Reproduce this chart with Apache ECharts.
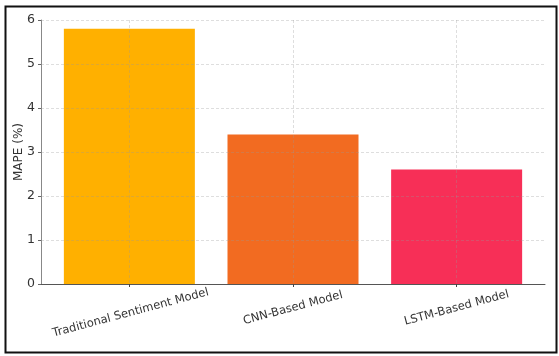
<!DOCTYPE html>
<html>
<head>
<meta charset="utf-8">
<script src="https://cdn.jsdelivr.net/npm/echarts@6/dist/echarts.min.js"></script>
<style>html,body{margin:0;padding:0;background:#fff;}#c{width:559px;height:356px;}</style>
</head>
<body>
<div id="c"></div>
<script>
var categories = ['Traditional Sentiment Model', 'CNN-Based Model', 'LSTM-Based Model'];
var mapeValues = [5.8, 3.4, 2.6];
var barColors = ['#FFB000', '#F26B21', '#F72F57'];
var yTicks = [0, 1, 2, 3, 4, 5, 6];

var chart = echarts.init(document.getElementById('c'));
var positions = categories.map(function (c, i) { return i; });
var gridColor = 'rgba(150,150,150,0.4)';
chart.setOption({
  animation: false,
  backgroundColor: '#fff',
  textStyle: { fontFamily: 'DejaVu Sans' },
  graphic: [{
    type: 'rect', left: 3, top: 4, z: 100, silent: true,
    shape: { width: 551, height: 346 },
    style: { fill: 'none', stroke: '#111', lineWidth: 2 }
  }],
  grid: { left: 41, right: 14, top: 20, bottom: 72, containLabel: false, outerBoundsMode: 'none' },
  xAxis: {
    type: 'value', min: -0.54, max: 2.54, z: 3,
    axisLine: { show: true, lineStyle: { color: '#555', width: 1 } },
    axisTick: { show: true, customValues: positions, length: 3, lineStyle: { color: '#444' } },
    axisLabel: {
      customValues: positions,
      formatter: function (v) {
        var i = Math.round(v);
        return i === 0 ? '{l|' + categories[i] + '}' : '{s|' + categories[i] + '}';
      },
      rich: {
        l: { fontSize: 11.5, color: '#333', fontFamily: 'DejaVu Sans', padding: [10, 0, 0, 0] },
        s: { fontSize: 11.5, color: '#333', fontFamily: 'DejaVu Sans' }
      },
      rotate: 15, align: 'center', verticalAlign: 'middle', margin: 24,
      fontSize: 11.5, color: '#333', fontFamily: 'DejaVu Sans'
    },
    splitLine: { show: true, lineStyle: { color: gridColor, type: [3, 2], width: 0.8 } }
  },
  yAxis: {
    type: 'value', min: 0, max: 6, interval: 1, z: 3,
    name: 'MAPE (%)', nameLocation: 'middle', nameGap: 16, nameMoveOverlap: false,
    nameTextStyle: { fontSize: 12, color: '#333', fontFamily: 'DejaVu Sans' },
    axisLine: { show: true, onZero: false, lineStyle: { color: '#888', width: 1 } },
    axisTick: { show: true, length: 3, lineStyle: { color: '#666' } },
    axisLabel: {
      margin: 6, fontSize: 12.5, color: '#333', fontFamily: 'DejaVu Sans',
      customValues: yTicks
    },
    splitLine: { show: true, lineStyle: { color: gridColor, type: [3, 2], width: 0.8 } }
  },
  series: [{
    type: 'bar',
    barWidth: 131,
    data: mapeValues.map(function (v, i) { return [positions[i], v]; }),
    itemStyle: { color: function (p) { return barColors[p.dataIndex]; } }
  }]
});
</script>
</body>
</html>
